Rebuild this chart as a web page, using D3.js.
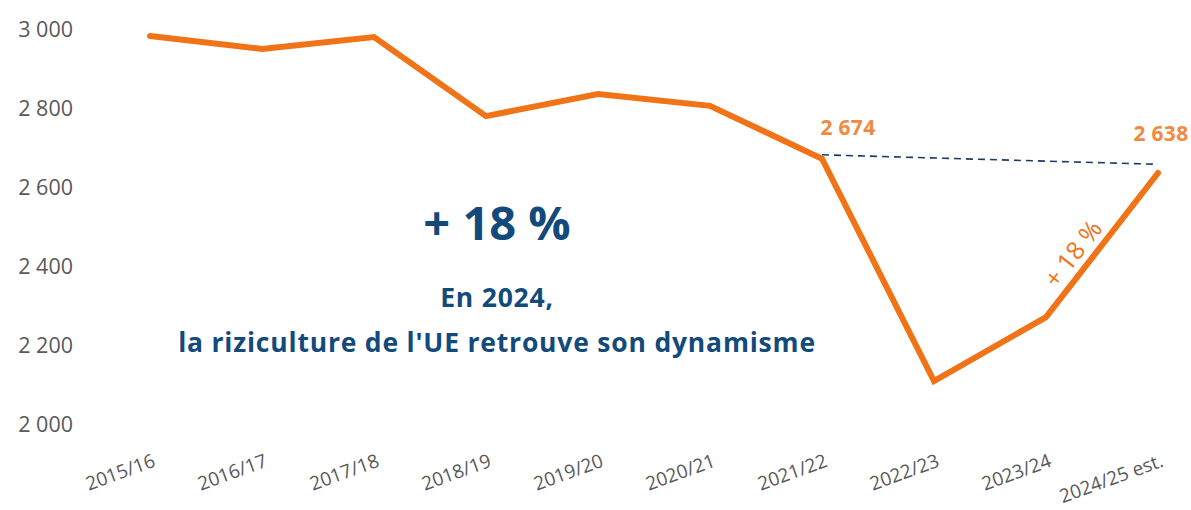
<!DOCTYPE html>
<html>
<head>
<meta charset="utf-8">
<script src="https://cdn.jsdelivr.net/npm/d3@7"></script>
<style>
  body { margin: 0; background: #fff; }
  text { font-family: 'Open Sans', sans-serif; }
</style>
</head>
<body>
<script>
// campaigns and production values
var campaigns = ['2015/16', '2016/17', '2017/18', '2018/19', '2019/20', '2020/21', '2021/22', '2022/23', '2023/24', '2024/25 est.'];
var values = [2985, 2952, 2982, 2782, 2838, 2808, 2674, 2111, 2273, 2638];
var y_ticks = [2000, 2200, 2400, 2600, 2800, 3000];
// dashed reference from 2021/22 to 2024/25
var ref_campaigns = ['2021/22', '2024/25 est.'];
var ref_values = [2684, 2660];
var labelled = ['2021/22', '2024/25 est.'];

var width = 1191, height = 510;
var orange = '#f07318', orange_light = '#f28a3e', blue = '#134a7c', navy = '#1e3868', grey = '#595959';

var svg = d3.select('body').append('svg').attr('width', width).attr('height', height);

var x_scale = d3.scalePoint().domain(campaigns).range([150, 1158]);
var y_scale = d3.scaleLinear().domain([2000, 3000]).range([425, 30]);

var fmt = function(v) { return d3.format(',')(v).replace(/,/g, ' '); };

// y axis labels (no line, no ticks)
var y_axis = svg.append('g').attr('transform', 'translate(73,0)')
    .call(d3.axisLeft(y_scale).tickValues(y_ticks).tickSize(0).tickPadding(0).tickFormat(fmt));
y_axis.select('.domain').remove();
y_axis.selectAll('text').attr('fill', grey).style('font-size', '21.5px').style('font-family', "'Open Sans', sans-serif");

// x axis labels, rotated
var x_axis = svg.append('g').attr('transform', 'translate(0,440)')
    .call(d3.axisBottom(x_scale).tickSize(0).tickPadding(0));
x_axis.select('.domain').remove();
x_axis.selectAll('text')
    .attr('fill', grey).style('font-size', '19px').style('font-family', "'Open Sans', sans-serif")
    .attr('text-anchor', 'end').attr('y', 0).attr('dy', 0)
    .attr('transform', 'translate(6,26) rotate(-20)');

// dashed reference line
var ref_data = ref_campaigns.map(function(c, i) { return {c: c, v: ref_values[i]}; });
svg.append('path').datum(ref_data)
    .attr('d', d3.line().x(d => x_scale(d.c)).y(d => y_scale(d.v)))
    .attr('fill', 'none').attr('stroke', navy).attr('stroke-width', 1.6).attr('stroke-dasharray', '7,5');

// main line
var data = campaigns.map(function(c, i) { return {c: c, v: values[i]}; });
svg.append('path').datum(data)
    .attr('d', d3.line().x(d => x_scale(d.c)).y(d => y_scale(d.v)))
    .attr('fill', 'none').attr('stroke', orange).attr('stroke-width', 6)
    .attr('stroke-linecap', 'round').attr('stroke-linejoin', 'miter');

// value labels
var offsets = {'2021/22': [26, -24], '2024/25 est.': [3, -32]};
svg.selectAll('.vlab').data(data.filter(d => labelled.indexOf(d.c) >= 0)).enter().append('text')
    .attr('class', 'vlab')
    .attr('x', d => x_scale(d.c) + offsets[d.c][0])
    .attr('y', d => y_scale(d.v) + offsets[d.c][1])
    .attr('text-anchor', 'middle').attr('fill', orange_light)
    .style('font-size', '21px').style('font-weight', 700).style('letter-spacing', '0.3px')
    .text(d => fmt(d.v));

// rotated "+ 18 %" along the rebound segment
var p0 = data[8], p1 = data[9];
var x0 = x_scale(p0.c), y0 = y_scale(p0.v), x1 = x_scale(p1.c), y1 = y_scale(p1.v);
var angle = Math.atan2(y1 - y0, x1 - x0) * 180 / Math.PI;
svg.append('text')
    .attr('transform', 'translate(' + ((x0 + x1) / 2 - 22) + ',' + ((y0 + y1) / 2 + 14) + ') rotate(' + angle + ')')
    .attr('text-anchor', 'middle').attr('fill', orange)
    .style('font-size', '25px')
    .text('+ 18 %');

// central message
svg.append('text').attr('x', 497).attr('y', 240).attr('text-anchor', 'middle')
    .attr('fill', blue).style('font-size', '47px').style('font-weight', 700)
    .text('+ 18 %');
svg.append('text').attr('x', 497).attr('y', 307).attr('text-anchor', 'middle')
    .attr('fill', blue).style('font-size', '26.5px').style('font-weight', 700).style('letter-spacing', '0.8px')
    .text('En 2024,');
svg.append('text').attr('x', 497).attr('y', 352).attr('text-anchor', 'middle')
    .attr('fill', blue).style('font-size', '26.5px').style('font-weight', 700).style('letter-spacing', '0.8px')
    .text("la riziculture de l'UE retrouve son dynamisme");
</script>
</body>
</html>
